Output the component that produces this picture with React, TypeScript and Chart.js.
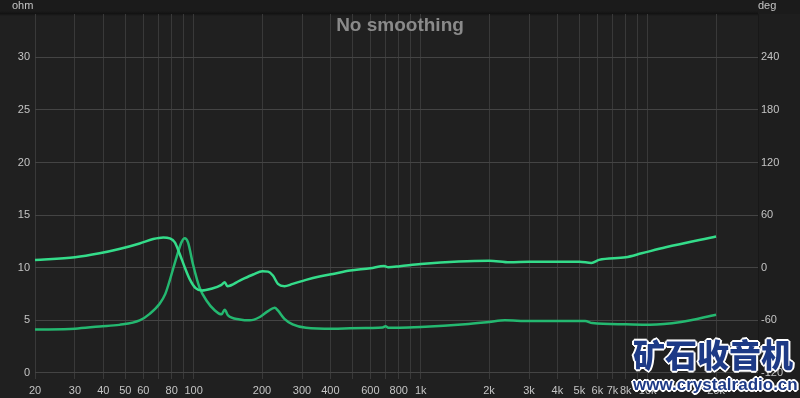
import React, { useEffect, useRef } from "react";
import { Chart, registerables } from "chart.js";

Chart.register(...registerables);

// Impedance curve (Hz, ohm)
const impFreq = [20, 30, 38.5, 47, 57.8, 64, 70.8, 75, 78.4, 84, 88.3, 91.3, 94.4, 99.2, 106, 113.8, 124, 132.6, 137, 141.7, 159.6, 176.6, 195.6, 212.6, 227.4, 234.8, 251, 272.7, 312.5, 411, 489, 600, 680, 700, 720, 809, 1000, 1570, 2000, 2350, 3000, 4000, 5300, 5700, 8000, 10200, 14000, 20000];
const impOhm = [4.1, 4.19, 4.4, 4.55, 4.97, 5.6, 6.56, 7.5, 8.77, 10.98, 12.4, 12.8, 12.4, 10.35, 8.13, 6.87, 5.92, 5.55, 6.0, 5.45, 5.07, 4.98, 5.3, 5.86, 6.18, 5.92, 5.13, 4.6, 4.28, 4.19, 4.22, 4.25, 4.3, 4.42, 4.28, 4.28, 4.34, 4.6, 4.82, 4.98, 4.91, 4.91, 4.91, 4.72, 4.6, 4.56, 4.82, 5.52];

// Phase curve (Hz, deg)
const phaseFreq = [20, 30, 38.5, 47, 57.8, 66.3, 73.5, 78.4, 82.6, 86.8, 91.3, 95.9, 102, 108.6, 119.5, 132.6, 137, 140.7, 159.6, 182.8, 201, 212.6, 223.3, 235, 251, 272.7, 312.5, 358, 411, 489, 600, 690, 720, 809, 1000, 2000, 2466, 3000, 4000, 5000, 5650, 6100, 8000, 9400, 12000, 20000];
const phaseDeg = [8.8, 11.8, 16.3, 21.2, 27.6, 32.6, 34.4, 33.4, 28.8, 15.6, 0.4, -12.8, -23.5, -26.2, -24.2, -19.7, -16.8, -21.2, -14.8, -7.9, -4.2, -4.6, -9.1, -18.6, -21.2, -18.6, -14.0, -10.2, -7.2, -3.4, -0.8, 1.9, 0.5, 1.6, 4.2, 7.9, 6.0, 6.8, 6.8, 6.8, 5.4, 8.8, 11.8, 16.3, 23.2, 35.6];

const leftTicks = [0, 5, 10, 15, 20, 25, 30];
const rightTicks = [-120, -60, 0, 60, 120, 180, 240];
const xGridFreqs = [20, 30, 40, 50, 60, 70, 80, 90, 100, 200, 300, 400, 500, 600, 700, 800, 900, 1000, 2000, 3000, 4000, 5000, 6000, 7000, 8000, 9000, 10000, 20000];
const xLabelFreqs = [20, 30, 40, 50, 60, 80, 100, 200, 300, 400, 600, 800, 1000, 2000, 3000, 4000, 5000, 6000, 7000, 8000, 10000, 20000];

const TICK_COLOR = "#c4c4c4";
const TICK_FONT = { family: "'Liberation Sans', Arial, sans-serif", size: 11 };

function fmtFreq(v: number): string {
  if (!xLabelFreqs.includes(v)) return "";
  return v >= 1000 ? `${v / 1000}k` : `${v}`;
}

const decorPlugin = {
  id: "decor",
  beforeDraw(chart: any) {
    const { ctx, width, height, chartArea } = chart;
    ctx.save();
    ctx.fillStyle = "#202020";
    ctx.fillRect(0, 0, width, height);
    ctx.fillStyle = "#1b1b1b";
    ctx.fillRect(0, 0, width, chartArea.top);
    const g = ctx.createLinearGradient(0, chartArea.top - 3, 0, chartArea.top + 2);
    g.addColorStop(0, "rgba(0,0,0,0)");
    g.addColorStop(0.6, "rgba(0,0,0,0.35)");
    g.addColorStop(1, "rgba(0,0,0,0)");
    ctx.fillStyle = g;
    ctx.fillRect(0, chartArea.top - 3, chartArea.right, 5);
    ctx.fillStyle = "#1e1e1e";
    ctx.fillRect(chartArea.right, chartArea.top, width - chartArea.right, height - chartArea.top);
    ctx.restore();
  },
  beforeDatasetsDraw(chart: any) {
    const { ctx, chartArea } = chart;
    ctx.save();
    ctx.fillStyle = "#8a8a8a";
    ctx.font = "bold 19px 'Liberation Sans', Arial, sans-serif";
    ctx.textAlign = "center";
    ctx.textBaseline = "alphabetic";
    ctx.fillText("No smoothing", 400, 31);
    ctx.strokeStyle = "#181818";
    ctx.lineWidth = 1;
    ctx.beginPath();
    ctx.moveTo(chartArea.right + 0.5, chartArea.top);
    ctx.lineTo(chartArea.right + 0.5, chartArea.bottom);
    ctx.stroke();
    ctx.restore();
  },
  afterDraw(chart: any) {
    const { ctx } = chart;
    ctx.save();
    ctx.fillStyle = TICK_COLOR;
    ctx.font = "11px 'Liberation Sans', Arial, sans-serif";
    ctx.textBaseline = "middle";
    ctx.textAlign = "left";
    ctx.fillText("ohm", 12, 6);
    ctx.fillText("deg", 758, 6);
    ctx.restore();
  },
};

export default function App() {
  const ref = useRef<HTMLCanvasElement | null>(null);

  useEffect(() => {
    if (!ref.current) return;
    const chart = new Chart(ref.current, {
      type: "line",
      data: {
        datasets: [
          {
            label: "Phase",
            data: phaseFreq.map((f, i) => ({ x: f, y: phaseDeg[i] })),
            yAxisID: "y1",
            borderColor: "#34dc8a",
            borderWidth: 2.5,
            pointRadius: 0,
            cubicInterpolationMode: "monotone",
            fill: false,
          },
          {
            label: "Impedance",
            data: impFreq.map((f, i) => ({ x: f, y: impOhm[i] })),
            yAxisID: "y",
            borderColor: "#24b870",
            borderWidth: 2.5,
            pointRadius: 0,
            cubicInterpolationMode: "monotone",
            fill: false,
          },
        ],
      },
      options: {
        responsive: false,
        animation: false,
        events: [],
        layout: { padding: { top: 14, left: 0, right: 0, bottom: 0 } },
        plugins: { legend: { display: false }, tooltip: { enabled: false }, title: { display: false } },
        scales: {
          x: {
            type: "logarithmic",
            min: 20,
            max: 30600,
            afterBuildTicks: (s: any) => {
              s.ticks = xGridFreqs.map((v) => ({ value: v }));
            },
            afterFit: (s: any) => {
              s.height = 19;
            },
            ticks: {
              autoSkip: false,
              maxRotation: 0,
              minRotation: 0,
              padding: 5,
              color: TICK_COLOR,
              font: TICK_FONT,
              callback: (v: any) => fmtFreq(Number(v)),
            },
            grid: { color: "#393939", drawTicks: false, lineWidth: 1 },
            border: { display: false },
          },
          y: {
            type: "linear",
            position: "left",
            min: -0.6,
            max: 34.13,
            afterBuildTicks: (s: any) => {
              s.ticks = leftTicks.map((v) => ({ value: v }));
            },
            afterFit: (s: any) => {
              s.width = 35;
            },
            ticks: { padding: 5, color: TICK_COLOR, font: TICK_FONT },
            grid: { color: "#444444", drawTicks: false },
            border: { display: false },
          },
          y1: {
            type: "linear",
            position: "right",
            min: -127.2,
            max: 289.6,
            afterBuildTicks: (s: any) => {
              s.ticks = rightTicks.map((v) => ({ value: v }));
            },
            afterFit: (s: any) => {
              s.width = 42;
            },
            ticks: { padding: 3, color: TICK_COLOR, font: TICK_FONT },
            grid: { display: false, drawTicks: false },
            border: { display: false },
          },
        },
      },
      plugins: [decorPlugin],
    } as any);
    return () => chart.destroy();
  }, []);

  const outline =
    "2px 0 0 #fff, -2px 0 0 #fff, 0 2px 0 #fff, 0 -2px 0 #fff, 1px 1px 0 #fff, -1px -1px 0 #fff, 1px -1px 0 #fff, -1px 1px 0 #fff";

  return (
    <div style={{ position: "absolute", left: 0, top: 0, width: 800, height: 398, overflow: "hidden" }}>
      <canvas ref={ref} width={800} height={398} style={{ display: "block" }} />
      <div
        style={{
          position: "absolute",
          left: 633,
          top: 333,
          fontFamily: "'Noto Sans CJK SC', sans-serif",
          fontWeight: 900,
          fontSize: 32,
          lineHeight: "40px",
          color: "#1d3a86",
          textShadow: outline,
          whiteSpace: "nowrap",
        }}
      >
        矿石收音机
      </div>
      <div
        style={{
          position: "absolute",
          left: 633,
          top: 374,
          fontFamily: "'Liberation Sans', Arial, sans-serif",
          fontWeight: 700,
          fontSize: 17,
          lineHeight: "22px",
          color: "#1d3a86",
          textShadow: outline,
          whiteSpace: "nowrap",
        }}
      >
        www.crystalradio.cn
      </div>
    </div>
  );
}
